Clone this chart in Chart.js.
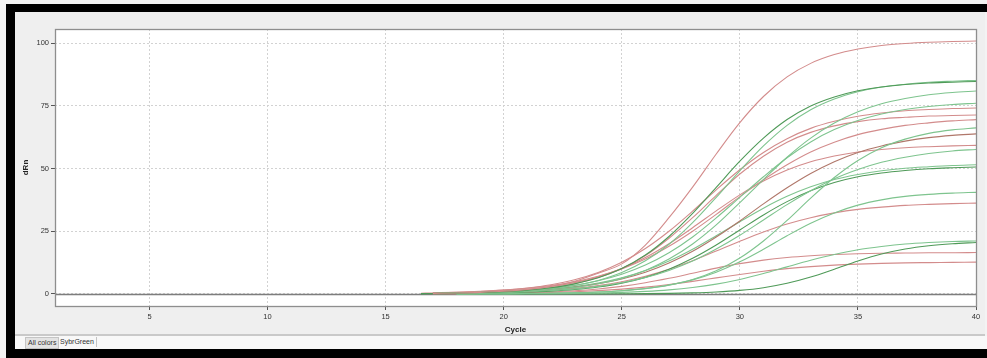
<!DOCTYPE html>
<html><head><meta charset="utf-8">
<script src="https://cdn.jsdelivr.net/npm/chart.js@4.4.1/dist/chart.umd.min.js"></script>
<style>
html,body{margin:0;padding:0;}
body{width:987px;height:358px;position:relative;overflow:hidden;background:#f3f3f3;font-family:"Liberation Sans",Arial,sans-serif;}
#topbar{position:absolute;left:6px;top:4px;width:981px;height:8px;background:#000;}
#leftbar{position:absolute;left:6px;top:4px;width:9px;height:354px;background:#000;}
#bottombar{position:absolute;left:6px;top:349px;width:981px;height:9px;background:#000;}
#panel{position:absolute;left:15px;top:12px;width:970px;height:322px;background:#efefef;border-bottom:2px solid #c9c9c9;}
#tabs{position:absolute;left:15px;top:336px;width:972px;height:13px;background:#f8f8f8;}
.tab{position:absolute;top:1px;height:10px;font-size:7px;line-height:10px;color:#333;padding:0 2px;}
#t1{left:10px;background:#e3e3e3;border:1px solid #c4c4c4;}
#t2{left:43px;border-right:1px solid #c4c4c4;}
canvas{position:absolute;left:15px;top:12px;}
</style></head>
<body>
<div id="topbar"></div><div id="leftbar"></div><div id="bottombar"></div>
<div id="panel"></div>
<canvas id="c" width="970" height="323"></canvas>
<div id="tabs"><div class="tab" id="t1">All colors</div><div class="tab" id="t2">SybrGreen</div></div>
<script>
// ---- data ----
const cycles = [16.5,17,18,19,20,21,22,23,24,25,26,27,28,29,30,31,32,33,34,35,36,37,38,39,40];
const xTicks = [5,10,15,20,25,30,35,40];
const yTicks = [0,25,50,75,100];

const well01 = [null,0.23,0.38,0.64,1.08,1.82,3.03,5.04,8.24,12.0,19.5,30.4,42.6,55.8,68.3,78.7,86.5,91.9,95.4,97.6,99.0,99.8,100.3,100.6,100.8];
const well02 = [0.15,0.21,0.35,0.57,0.93,1.53,2.49,4.03,6.45,10.1,15.5,22.9,32.1,42.5,52.9,62.1,69.5,74.9,78.5,81.0,82.5,83.5,84.1,84.4,84.7];
const well03 = [null,0.17,0.28,0.47,0.77,1.26,2.06,3.35,5.38,8.53,13.2,19.8,28.4,38.5,49.1,59.0,67.2,73.4,77.7,80.6,82.5,83.6,84.4,84.8,85.1];
const well04 = [null,0.18,0.28,0.44,0.69,1.08,1.69,2.62,4.06,6.22,9.39,13.9,19.9,27.5,36.4,45.6,54.5,62.1,68.1,72.6,75.8,77.9,79.4,80.3,80.9];
const well05 = [null,0.27,0.42,0.64,0.98,1.51,2.31,3.50,5.28,7.86,11.5,16.4,22.7,30.3,38.5,46.7,54.3,60.6,65.5,69.1,71.7,73.5,74.7,75.5,76.0];
const well06 = [0.30,0.40,0.62,0.98,1.53,2.38,3.69,5.65,8.53,12.6,18.1,25.0,33.0,41.5,49.5,56.4,61.9,66.0,68.8,70.8,72.1,73.0,73.5,73.9,74.1];
const well07 = [null,0.22,0.36,0.58,0.96,1.56,2.54,4.10,6.52,10.1,15.3,22.2,30.4,39.3,47.8,54.9,60.5,64.4,67.0,68.7,69.8,70.4,70.9,71.1,71.3];
const well08 = [null,0.47,0.70,1.04,1.54,2.28,3.34,4.87,7.04,10.0,13.9,19.0,25.0,31.7,38.8,45.5,51.5,56.6,60.5,63.5,65.6,67.2,68.2,69.0,69.5];
const well09 = [null,null,0.03,0.06,0.09,0.16,0.27,0.45,0.76,1.28,2.14,3.54,5.78,9.23,14.3,21.1,29.3,38.2,46.4,53.2,58.3,61.7,64.0,65.4,66.2];
const well10 = [null,0.23,0.35,0.54,0.81,1.22,1.83,2.74,4.06,5.97,8.64,12.3,17.0,22.7,29.1,35.9,42.3,48.0,52.7,56.4,59.0,60.9,62.3,63.2,63.8];
const well11 = [null,0.32,0.50,0.78,1.22,1.90,2.95,4.52,6.81,10.1,14.5,20.0,26.4,33.1,39.5,45.0,49.4,52.7,55.0,56.6,57.6,58.3,58.7,59.0,59.2];
const well12 = [null,0.17,0.26,0.39,0.60,0.90,1.36,2.03,3.03,4.48,6.53,9.37,13.1,17.9,23.4,29.5,35.6,41.1,45.9,49.6,52.5,54.5,56.0,57.0,57.6];
const well13 = [null,0.23,0.35,0.54,0.82,1.26,1.92,2.91,4.36,6.44,9.32,13.1,17.8,23.2,28.8,34.2,38.9,42.7,45.6,47.6,49.1,50.1,50.7,51.2,51.5];
const well14 = [0.05,0.10,0.17,0.27,0.43,0.69,1.11,1.76,2.77,4.31,6.61,9.86,14.2,19.5,25.5,31.5,36.8,41.1,44.4,46.7,48.2,49.2,49.9,50.3,50.6];
const well15 = [null,null,0.03,0.06,0.10,0.16,0.27,0.46,0.78,1.30,2.15,3.51,5.61,8.67,12.8,17.8,23.2,28.2,32.3,35.4,37.5,38.9,39.7,40.2,40.5];
const well16 = [null,0.17,0.27,0.41,0.63,0.96,1.47,2.22,3.32,4.87,7.02,9.81,13.2,17.1,21.0,24.7,27.9,30.4,32.3,33.7,34.6,35.3,35.7,36.0,36.2];
const well17 = [null,null,0.02,0.03,0.05,0.09,0.14,0.24,0.39,0.63,1.02,1.63,2.56,3.92,5.78,8.12,10.8,13.4,15.7,17.6,18.9,19.9,20.5,20.9,21.1];
const well18 = [null,null,0.00,0.00,0.01,0.01,0.02,0.02,0.04,0.07,0.12,0.23,0.43,0.78,1.42,2.50,4.24,6.74,9.84,13.1,15.9,17.9,19.2,20.0,20.5];
const well19 = [null,0.07,0.11,0.18,0.30,0.48,0.78,1.25,1.97,3.01,4.44,6.23,8.25,10.3,12.1,13.5,14.5,15.2,15.7,16.0,16.2,16.3,16.4,16.4,16.5];
const well20 = [null,0.07,0.11,0.16,0.25,0.38,0.58,0.88,1.31,1.91,2.73,3.78,5.03,6.40,7.77,9.02,10.1,10.9,11.5,11.9,12.2,12.4,12.5,12.6,12.7];

const wells = [well01,well02,well03,well04,well05,well06,well07,well08,well09,well10,
               well11,well12,well13,well14,well15,well16,well17,well18,well19,well20];
const wellGroup = ['r','gd','g','g','g','r','r','r','g','rd','r','g','g','gd','g','r','g','gd','r','r'];

// ---- styles ----
const palette = {r:'#d38c8c', rd:'#b0776a', g:'#7ec48e', gd:'#4f9a58'};
const FONT = '"Liberation Sans", Arial, sans-serif';

const datasets = wells.map((w,i)=>({
  label:'W'+(i+1),
  data:w.map((v,j)=>({x:cycles[j], y:v})).filter(p=>p.y!==null),
  borderColor:palette[wellGroup[i]],
  borderWidth:1.1,
  pointRadius:0,
  fill:false,
  cubicInterpolationMode:'monotone'
}));

const framePlugin = {
  id:'frame',
  beforeDraw(chart){
    const {ctx, chartArea:a} = chart;
    ctx.save(); ctx.fillStyle='#ffffff';
    ctx.fillRect(a.left,a.top,a.right-a.left,a.bottom-a.top); ctx.restore();
  },
  beforeDatasetsDraw(chart){
    const {ctx, chartArea:a} = chart;
    const y = Math.round(chart.scales.y.getPixelForValue(0))+0.5;
    ctx.save(); ctx.strokeStyle='#7d7d7d'; ctx.lineWidth=1.3;
    ctx.beginPath(); ctx.moveTo(a.left,y); ctx.lineTo(a.right,y); ctx.stroke(); ctx.restore();
  },
  afterDraw(chart){
    const {ctx, chartArea:a} = chart;
    ctx.save(); ctx.strokeStyle='#8e8e8e'; ctx.lineWidth=1.3;
    ctx.strokeRect(a.left+0.5,a.top+0.5,a.right-a.left,a.bottom-a.top); ctx.restore();
  }
};

new Chart(document.getElementById('c'), {
  type:'line',
  data:{datasets},
  options:{
    responsive:false, animation:false, devicePixelRatio:1,
    layout:{padding:{left:0,right:9,top:17,bottom:0}},
    plugins:{legend:{display:false}, tooltip:{enabled:false}},
    scales:{
      x:{
        type:'linear', min:1, max:40,
        afterBuildTicks:s=>{ s.ticks = xTicks.map(v=>({value:v})); },
        afterFit:s=>{ s.height = 29; },
        grid:{color:'#d2d2d2', lineWidth:1, tickColor:'#555', tickLength:4, tickWidth:1},
        border:{display:false, dash:[2,2]},
        ticks:{font:{family:FONT,size:7.5}, color:'#333', padding:2, maxRotation:0, autoSkip:false},
        title:{display:true, text:'Cycle', color:'#222', font:{family:FONT,size:8,weight:'bold'}, padding:{top:0,bottom:0}}
      },
      y:{
        type:'linear', min:-4.8, max:105.6,
        afterBuildTicks:s=>{ s.ticks = yTicks.map(v=>({value:v})); },
        afterFit:s=>{ s.width = 40; },
        grid:{color:'#d2d2d2', lineWidth:1, tickColor:'#555', tickLength:4, tickWidth:1},
        border:{display:false, dash:[2,2]},
        ticks:{font:{family:FONT,size:7.5}, color:'#333', padding:2},
        title:{display:true, text:'dRn', color:'#222', font:{family:FONT,size:8,weight:'bold'}, padding:{top:6,bottom:0}}
      }
    }
  },
  plugins:[framePlugin]
});
</script>
</body></html>
